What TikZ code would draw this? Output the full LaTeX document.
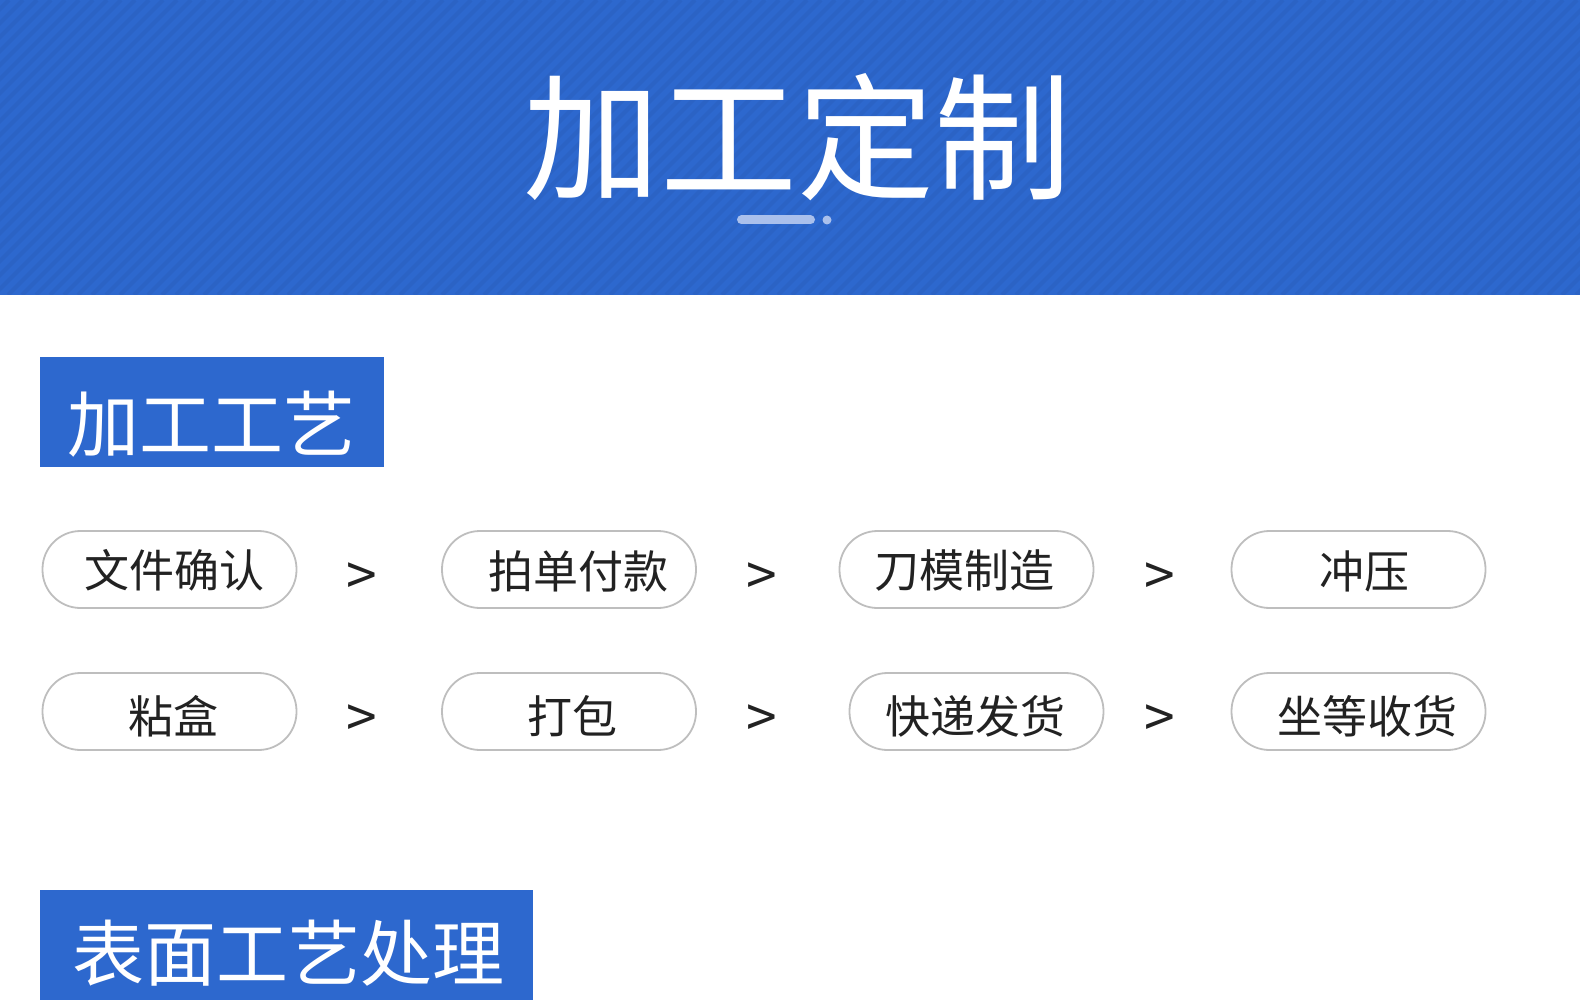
\documentclass[tikz,border=0pt]{standalone}
\usepackage{fontspec}
\setmainfont{Noto Sans CJK SC}
\definecolor{hdblue}{RGB}{45,104,206}
\definecolor{barblue}{RGB}{170,192,236}
\definecolor{pillgray}{RGB}{190,190,190}
\definecolor{txtgray}{RGB}{34,34,34}
\tikzset{
  pill/.style={draw=pillgray, line width=1.8pt, fill=white, rounded corners=38pt,
    minimum width=254pt, minimum height=77pt, inner sep=0pt},
  pilltext/.style={text=txtgray, font=\fontsize{45}{45}\selectfont, inner sep=0pt},
  gtmark/.style={text=txtgray, font=\fontsize{55}{55}\selectfont, inner sep=0pt},
  sectext/.style={text=white, font=\fontsize{72}{72}\selectfont, inner sep=0pt},
}
\begin{document}
\begin{tikzpicture}[x=1pt,y=-1pt]
\useasboundingbox (0,0) rectangle (1580,1000);
%header
\fill[hdblue] (0,0) rectangle (1580,295);
\begin{scope}
\clip (0,0) rectangle (1580,295);
\foreach \i in {-300,-286,...,1580}
  \draw[black, opacity=0.04, line width=4pt] (\i,295) -- (\i+295,0);
\end{scope}
\node[text=white, font=\fontsize{137}{137}\selectfont, inner sep=0pt] (title) at (797,137) {加工定制};
\coordinate (ulA) at (741.5,220);
\coordinate (ulB) at (810.5,220);
\coordinate (ulC) at (827,220);
\draw[barblue, line width=9pt, line cap=round] (ulA)--(ulB);
\fill[barblue] (ulC) circle (4.5pt);
%section 1
\fill[hdblue] (40,357) rectangle (384,467);
\node[sectext] (sec1) at (211.5,424) {加工工艺};
%row 1
\node[pill] (p11) at (169.5,569.5) {};
\node[pill] (p12) at (569,569.5) {};
\node[pill] (p13) at (966.5,569.5) {};
\node[pill] (p14) at (1358.5,569.5) {};
\node[pilltext] (t11) at (174,570) {文件确认};
\node[pilltext] (t12) at (578,571) {拍单付款};
\node[pilltext] (t13) at (964.5,570) {刀模制造};
\node[pilltext] (t14) at (1364.5,571) {冲压};
\node[gtmark] (g11) at (362,579) {>};
\node[gtmark] (g12) at (762,579) {>};
\node[gtmark] (g13) at (1160,579) {>};
%row 2
\node[pill] (p21) at (169.5,711.5) {};
\node[pill] (p22) at (569,711.5) {};
\node[pill] (p23) at (976.5,711.5) {};
\node[pill] (p24) at (1358.5,711.5) {};
\node[pilltext] (t21) at (173.5,716) {粘盒};
\node[pilltext] (t22) at (572.5,716) {打包};
\node[pilltext] (t23) at (975.5,716) {快递发货};
\node[pilltext] (t24) at (1367.5,716) {坐等收货};
\node[gtmark] (g21) at (362,721) {>};
\node[gtmark] (g22) at (762,721) {>};
\node[gtmark] (g23) at (1160,721) {>};
%section 2
\fill[hdblue] (40,890) rectangle (533,1000);
\node[sectext] (sec2) at (288,953) {表面工艺处理};
\end{tikzpicture}
\end{document}
